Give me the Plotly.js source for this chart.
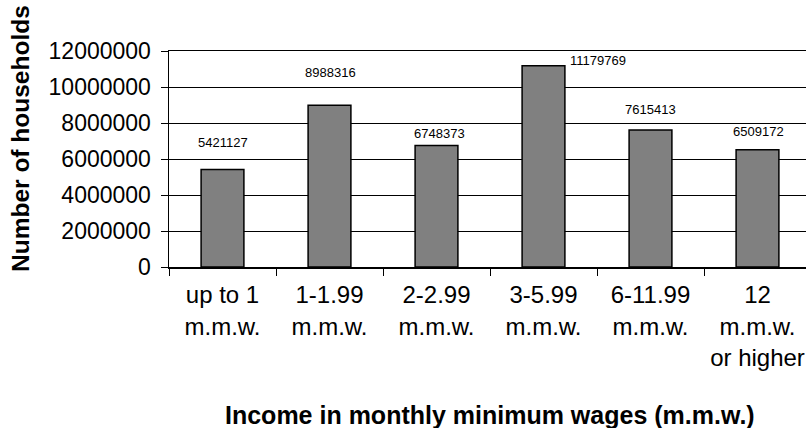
<!DOCTYPE html>
<html>
<head>
<meta charset="utf-8">
<script src="https://cdn.plot.ly/plotly-3.0.1.min.js"></script>
<style>html,body{margin:0;padding:0;background:#fff;}#chart{width:806px;height:428px;}</style>
</head>
<body>
<div id="chart"></div>
<script>
// ---- data ----
var categories = ["up to 1<br>m.m.w.", "1-1.99<br>m.m.w.", "2-2.99<br>m.m.w.", "3-5.99<br>m.m.w.", "6-11.99<br>m.m.w.", "12<br>m.m.w.<br>or higher"];
var households = [5421127, 8988316, 6748373, 11179769, 7615413, 6509172];
var labelTexts = ["5421127", "8988316", "6748373", "11179769", "7615413", "6509172"];
var yTickValues = [0, 2000000, 4000000, 6000000, 8000000, 10000000, 12000000];
var yTickLabels = ["0", "2000000", "4000000", "6000000", "8000000", "10000000", "12000000"];

// ---- label placement style (pixel offsets from bar top) ----
var labelDy = [27, 33, 12, 5, 20, 18];
var labelDx = [0, 1, 3, 54, 0, 1];

var FONT = "Arial, Liberation Sans, Helvetica, sans-serif";

var trace = {
  type: "bar",
  x: categories,
  y: households,
  marker: { color: "#808080", line: { color: "#000000", width: 1.5 } },
  hoverinfo: "none"
};

var annotations = households.map(function (v, i) {
  return {
    x: categories[i], y: v, xref: "x", yref: "y",
    text: labelTexts[i], showarrow: false,
    xanchor: "center", yanchor: "middle",
    yshift: labelDy[i], xshift: labelDx[i],
    font: { family: FONT, size: 13, color: "#000" }
  };
});

// axis titles as annotations for precise placement
annotations.push({
  xref: "paper", yref: "paper",
  x: (20 - 169) / 637, y: (267 - 139) / 216,
  xanchor: "center", yanchor: "middle", textangle: -90,
  text: "<b>Number of households</b>", showarrow: false,
  font: { family: FONT, size: 24.5, color: "#000" }
});
annotations.push({
  xref: "paper", yref: "paper",
  x: (490 - 169) / 637, y: (267 - 415) / 216,
  xanchor: "center", yanchor: "middle",
  text: "<b>Income in monthly minimum wages (m.m.w.)</b>", showarrow: false,
  font: { family: FONT, size: 25, color: "#000" }
});

var layout = {
  width: 806, height: 428,
  margin: { l: 169, r: 0, t: 51, b: 161, pad: 0 },
  paper_bgcolor: "#fff", plot_bgcolor: "#fff",
  showlegend: false,
  bargap: 0.6,
  font: { family: FONT, color: "#000" },
  xaxis: {
    type: "category",
    range: [-0.5, -0.5 + 637 / 107],
    showline: true, linecolor: "#000", linewidth: 1.5, mirror: true,
    ticks: "outside", ticklen: 7, tickcolor: "#000", tickwidth: 1,
    tickson: "boundaries",
    showgrid: false, zeroline: false,
    tickfont: { family: FONT, size: 24, color: "#000" },
    ticklabelstandoff: 6,
    fixedrange: true
  },
  yaxis: {
    range: [0, 12000000],
    tickmode: "array", tickvals: yTickValues, ticktext: yTickLabels,
    showline: true, linecolor: "#000", linewidth: 1.5,
    ticks: "outside", ticklen: 7, tickcolor: "#000", tickwidth: 1,
    showgrid: true, gridcolor: "#000", gridwidth: 1,
    zeroline: false,
    tickfont: { family: FONT, size: 23, color: "#000" },
    ticklabelstandoff: 5,
    fixedrange: true
  },
  annotations: annotations
};

Plotly.newPlot("chart", [trace], layout, { displayModeBar: false, staticPlot: true });
</script>
</body>
</html>
